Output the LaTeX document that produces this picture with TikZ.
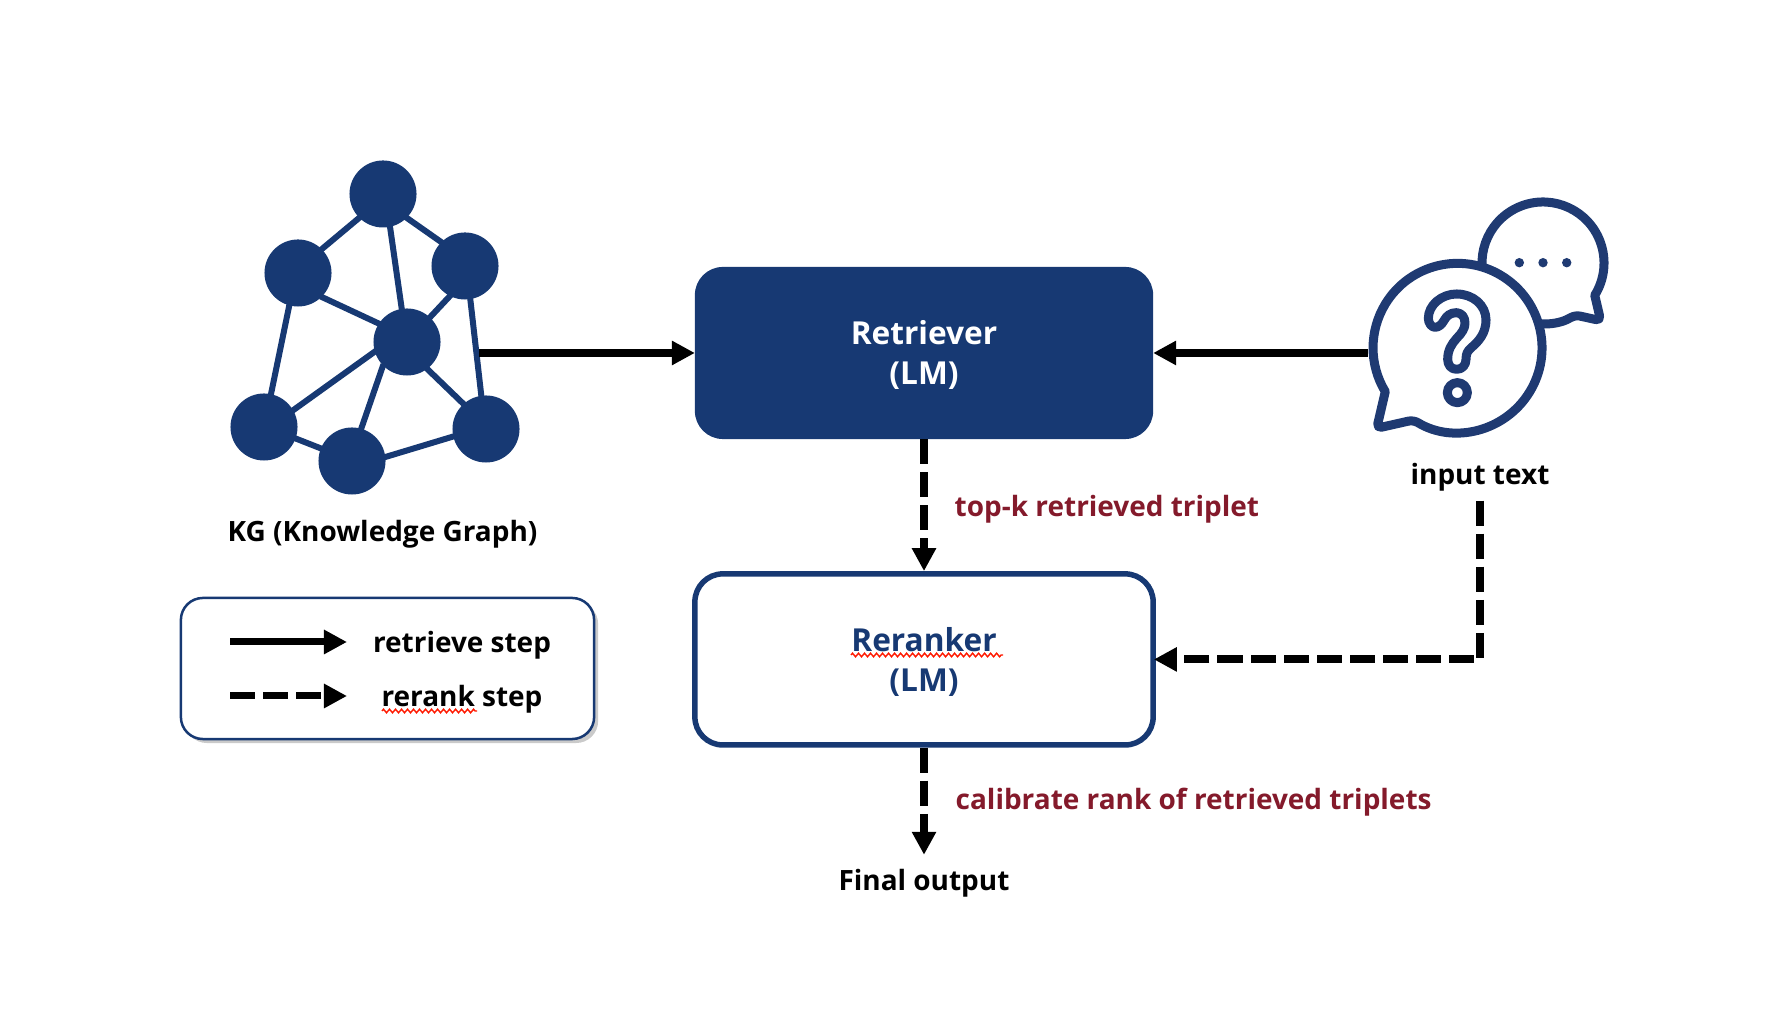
\documentclass[tikz,border=0pt]{standalone}
\usepackage{fontspec}
\setmainfont{Open Sans}
\usetikzlibrary{arrows.meta, shadows, positioning, decorations.pathmorphing}

\definecolor{kgblue}{HTML}{173973}
\definecolor{iconblue}{HTML}{1F3A72}
\definecolor{notered}{HTML}{841A2B}

\begin{document}
\begin{tikzpicture}[x=.01cm, y=.01cm,
  >={Triangle[length=.23cm, width=.23cm]},
  kgnode/.style={circle, fill=kgblue, minimum size=.67cm, inner sep=0pt},
  kgedge/.style={draw=kgblue, line width=.06cm, shorten <=-.02cm, shorten >=-.02cm},
  boxtext/.style={font=\fontsize{9}{11.4}\selectfont\bfseries, align=center, inner sep=0pt, text height=.685cm},
  lbl/.style={font=\fontsize{7.95}{11.4}\selectfont\bfseries, inner sep=0pt, text height=.25cm, text depth=.07cm},
  notelbl/.style={lbl, text=notered},
  retrievebox/.style={boxtext, rectangle, rounded corners=.28cm, fill=kgblue, text=white, minimum width=4.58cm, minimum height=1.72cm, outer sep=0pt},
  rerankbox/.style={boxtext, rectangle, rounded corners=.28cm, draw=kgblue, text=kgblue, line width=.055cm, minimum width=4.58cm, minimum height=1.71cm},
  legendbox/.style={rectangle, rounded corners=.22cm, draw=kgblue, line width=.025cm, fill=white, minimum width=4.13cm, minimum height=1.41cm,
    drop shadow={shadow xshift=.04cm, shadow yshift=-.04cm, opacity=.35, fill=black!60}},
  solidarrow/.style={->, line width=.08cm},
  dasharrow/.style={->, line width=.08cm, dash pattern=on .25cm off .08cm},
  iconline/.style={draw=iconblue, line width=.09cm, line join=round},
  squiggle/.style={draw=red!80!orange, line width=.014cm, decorate, decoration={zigzag, segment length=.06cm, amplitude=.018cm}}]

  \useasboundingbox (0,0) rectangle (1786,1016);

  \node[kgnode] (T) at (383,822) {};
  \node[kgnode] (L) at (298,743) {};
  \node[kgnode] (R) at (465,750) {};
  \node[kgnode] (M) at (407,674) {};
  \node[kgnode] (BL) at (264,589) {};
  \node[kgnode] (BM) at (352,555) {};
  \node[kgnode] (BR) at (486,587) {};
  \foreach \a/\aa/\b/\bb in {T/225/L/45, T/-45/R/135, T/-78/M/99, L/-45/M/147, R/243/M/47, L/255/BL/78, R/-81/BR/98,
      M/197/BL/30, M/225/BM/74, M/-53/BR/132, BL/-20/BM/158, BM/7/BR/193}
    \draw[kgedge] (\a.\aa) -- (\b.\bb);
  \node[lbl, anchor=base] (kglabel) at (382.5,474) {KG (Knowledge Graph)};

  \node[retrievebox] (retriever) at (924,663) {Retriever\\(LM)};
  \node[rerankbox] (reranker) [below=1.32cm of retriever] {Reranker\\(LM)};
  \node[lbl] (final) [below=1.17cm of reranker] {Final output};
  \draw[squiggle] (851,361) -- (1003,361);

  \node[notelbl, anchor=base west] (topk) at (954,499) {top-k retrieved triplet};
  \node[notelbl, anchor=base west] (calibrate) at (955,206) {calibrate rank of retrieved triplets};

  % small bubble
  \draw[iconline] (1543,753) ++(200:61) arc[start angle=200, end angle=-32, radius=61]
    [rounded corners=.05cm] -- (1600.7,695.3) -- (1575,701)
    [sharp corners] arc[start angle=-58.8, end angle=-110, radius=61];
  \foreach \xdot in {1519.3, 1543, 1566.7}
    \fill[iconblue] (\xdot,753.3) circle[radius=4.7];
  % big bubble
  \draw[iconline, fill=white] (1413.5,596) arc[start angle=238.6, end angle=571.2, radius=84.5]
    [rounded corners=.05cm] -- (1376.7,587.7) -- cycle;
  \begin{scope}[shift={(1400,746)}, x=.01cm/3, y=-.01cm/3]
    \draw[iconline] (85,145) .. controls (85,105) and (125,72) .. (170,72)
      .. controls (218,72) and (258,105) .. (258,150)
      .. controls (258,190) and (235,215) .. (215,232)
      .. controls (203,242) and (198,250) .. (198,268)
      .. controls (198,285) and (187,298) .. (170,298)
      .. controls (153,298) and (143,285) .. (143,268)
      .. controls (143,240) and (155,222) .. (170,205)
      .. controls (185,190) and (195,175) .. (195,160)
      .. controls (195,140) and (185,130) .. (170,128)
      .. controls (150,128) and (140,138) .. (133,150)
      .. controls (125,165) and (115,172) .. (105,172)
      .. controls (95,172) and (85,160) .. (85,145) -- cycle;
    \draw[iconline] (172,368) circle[radius=30];
  \end{scope}
  \node[lbl, anchor=base] (input) at (1480,531) {input text};

  \coordinate (kgout) at (479,663);
  \coordinate (askout) at (1368,663);
  \draw[solidarrow] (kgout) -- (retriever.west);
  \draw[solidarrow] (askout) -- (retriever.east);
  \draw[dasharrow] (retriever.south) -- (reranker.north);
  \draw[dasharrow, shorten <=.08cm, shorten >=-.02cm] (input.south) |- (reranker.east);
  \draw[dasharrow, shorten >=.1cm] (reranker.south) -- (final.north);

  \node[legendbox] (legend) at (387.5,347.5) {};
  \coordinate (solidA) at (230,374);
  \coordinate (solidB) at (347,374);
  \coordinate (dashA) at (230,320);
  \coordinate (dashB) at (347,320);
  \draw[solidarrow, line width=.07cm] (solidA) -- (solidB);
  \draw[dasharrow, line width=.07cm] (dashA) -- (dashB);
  \node[lbl, anchor=base] (retrievestep) at (462,363.5) {retrieve step};
  \node[lbl, anchor=base] (rerankstep) at (462,309) {rerank step};
  \draw[squiggle] (382,305) -- (477,305);
\end{tikzpicture}
\end{document}
